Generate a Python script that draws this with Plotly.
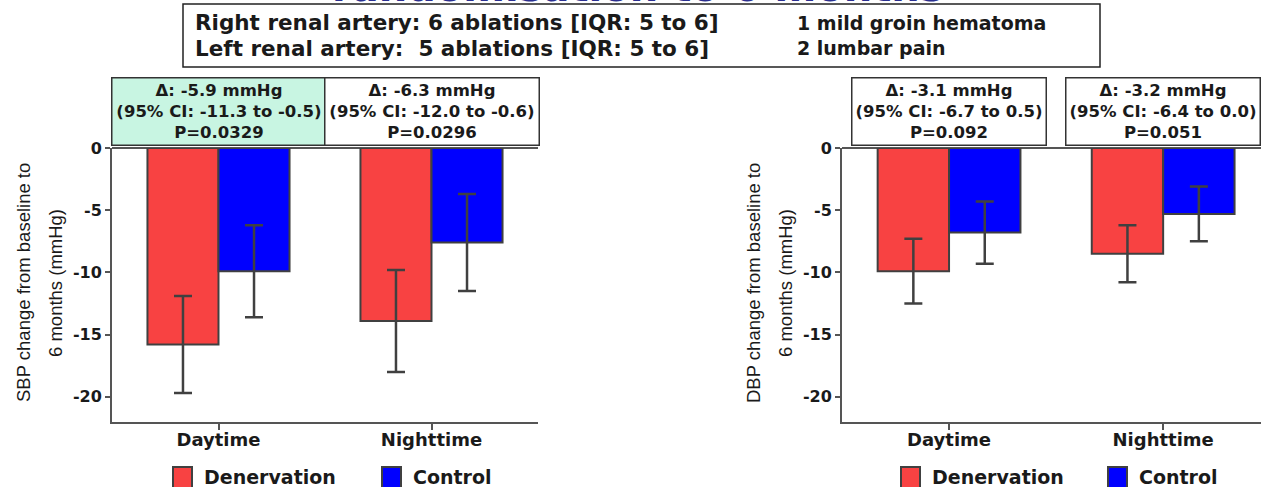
import plotly.graph_objects as go

W, H = 1261, 487

# ---- data -------------------------------------------------------------
periods = ["Daytime", "Nighttime"]
groups = ["Denervation", "Control"]

sbp_denervation = [-15.8, -13.9]
sbp_denervation_err = [3.9, 4.1]
sbp_control = [-9.9, -7.6]
sbp_control_err = [3.7, 3.9]

dbp_denervation = [-9.9, -8.5]
dbp_denervation_err = [2.6, 2.3]
dbp_control = [-6.8, -5.3]
dbp_control_err = [2.5, 2.2]

sbp_boxes = [
    "Δ: -5.9 mmHg<br>(95% CI: -11.3 to -0.5)<br>P=0.0329",
    "Δ: -6.3 mmHg<br>(95% CI: -12.0 to -0.6)<br>P=0.0296",
]
dbp_boxes = [
    "Δ: -3.1 mmHg<br>(95% CI: -6.7 to 0.5)<br>P=0.092",
    "Δ: -3.2 mmHg<br>(95% CI: -6.4 to 0.0)<br>P=0.051",
]

y_ticks = [0, -5, -10, -15, -20]

RED = "#F84242"
BLUE = "#0000FF"
EDGE = "#404040"
AXIS = "#555555"
TEXT = "#1a1a1a"
BOLD_FONT = "DejaVu Sans"
NARROW_FONT = "Liberation Sans Narrow, Liberation Sans, Arial"


def px(x):
    return x / W


def py(y):
    return 1 - y / H


def bold(size, color=TEXT):
    return dict(family=BOLD_FONT, size=size, color=color, weight="bold")


fig = go.Figure()


def add_bars(den, den_err, ctl, ctl_err, xa, ya):
    fig.add_trace(go.Bar(
        x=periods, y=den, name=groups[0], xaxis=xa, yaxis=ya,
        marker=dict(color=RED, line=dict(color=EDGE, width=2)),
        error_y=dict(type="data", array=den_err, color=EDGE, thickness=2.5, width=9),
        showlegend=False,
    ))
    fig.add_trace(go.Bar(
        x=periods, y=ctl, name=groups[1], xaxis=xa, yaxis=ya,
        marker=dict(color=BLUE, line=dict(color=EDGE, width=2)),
        error_y=dict(type="data", array=ctl_err, color=EDGE, thickness=2.5, width=9),
        showlegend=False,
    ))


add_bars(sbp_denervation, sbp_denervation_err, sbp_control, sbp_control_err, "x", "y")
add_bars(dbp_denervation, dbp_denervation_err, dbp_control, dbp_control_err, "x2", "y2")

y_dom = [py(421.7), py(148)]

xaxis_common = dict(
    type="category", showline=True, linecolor=AXIS, linewidth=2,
    ticks="outside", ticklen=6, tickcolor=AXIS, tickwidth=1.5,
    tickfont=bold(18), automargin=False, ticklabelstandoff=-5,
    showgrid=False, zeroline=False,
)
yaxis_common = dict(
    range=[-22, 0], tickvals=y_ticks, ticktext=[str(v) for v in y_ticks],
    showline=True, linecolor=AXIS, linewidth=2,
    ticks="outside", ticklen=5, tickcolor=AXIS, tickwidth=1.5,
    tickfont=bold(16), automargin=False,
    showgrid=False, zeroline=True, zerolinecolor=AXIS, zerolinewidth=1.5,
    domain=y_dom,
)

fig.update_layout(
    width=W, height=H,
    margin=dict(l=0, r=0, t=0, b=0, pad=0, autoexpand=False),
    paper_bgcolor="white", plot_bgcolor="white",
    barmode="group", bargap=0.333, bargroupgap=0,
    xaxis=dict(xaxis_common, domain=[px(112), px(538)], range=[-0.5, 1.5], anchor="y"),
    yaxis=dict(yaxis_common, anchor="x"),
    xaxis2=dict(xaxis_common, domain=[px(842), 1.0], range=[-0.5, 1.457], anchor="y2"),
    yaxis2=dict(yaxis_common, anchor="x2"),
    showlegend=False,
)

annotations = []
shapes = []

# statistics boxes above each pair of bars
box_specs = [
    ("x", sbp_boxes, 210, ["#C8F5E2", "white"]),
    ("x2", dbp_boxes, 190, ["white", "white"]),
]
for xref, texts, width, fills in box_specs:
    for i, txt in enumerate(texts):
        annotations.append(dict(
            xref=xref, yref="paper", x=i, y=py(111), xanchor="center", yanchor="middle",
            text=txt, showarrow=False, align="center",
            width=width, height=63,
            font=bold(16.5),
            bgcolor=fills[i], bordercolor="#333333", borderwidth=1.5, borderpad=1.5,
        ))

# y-axis titles, two lines each
for x_line1, x_line2, label in [(23, 55, "SBP"), (753, 785, "DBP")]:
    for xc, txt in [(x_line1, f"{label} change from baseline to"), (x_line2, "6 months (mmHg)")]:
        annotations.append(dict(
            xref="paper", yref="paper", x=px(xc), y=py(283), textangle=-90,
            text=txt, showarrow=False,
            font=dict(family=NARROW_FONT, size=18.5, color=TEXT),
            xanchor="center", yanchor="middle",
        ))

# legends under each panel
for sq1, sq2 in [(173, 382), (901, 1108)]:
    for sx, color, label in [(sq1, RED, groups[0]), (sq2, BLUE, groups[1])]:
        shapes.append(dict(
            type="rect", xref="paper", yref="paper",
            x0=px(sx), x1=px(sx + 19), y0=py(489), y1=py(467),
            fillcolor=color, line=dict(color=EDGE, width=2),
        ))
        annotations.append(dict(
            xref="paper", yref="paper", x=px(sx + 29), y=py(477),
            xanchor="left", yanchor="middle", text=label, showarrow=False,
            font=bold(19),
        ))

# procedure summary box
shapes.append(dict(
    type="rect", xref="paper", yref="paper",
    x0=px(183), x1=px(1100), y0=py(67), y1=py(4),
    fillcolor="white", line=dict(color="#222222", width=1.5), layer="below",
))
summary_left = [
    "Right renal artery: 6 ablations [IQR: 5 to 6]",
    "Left renal artery:  5 ablations [IQR: 5 to 6]",
]
summary_right = ["1 mild groin hematoma", "2 lumbar pain"]
for i, (lt, rt) in enumerate(zip(summary_left, summary_right)):
    yc = py(23 + 25 * i)
    annotations.append(dict(
        xref="paper", yref="paper", x=px(193), y=yc, xanchor="left", yanchor="middle",
        text=lt.replace("  ", "&nbsp; "), showarrow=False,
        font=bold(21.5),
    ))
    annotations.append(dict(
        xref="paper", yref="paper", x=px(795), y=yc, xanchor="left", yanchor="middle",
        text=rt, showarrow=False,
        font=bold(19),
    ))

# slide heading, mostly above the visible area
annotations.append(dict(
    xref="paper", yref="paper", x=px(638), y=py(12.5), xanchor="center", yanchor="bottom",
    text="randomisation to 6 months", showarrow=False,
    font=bold(40, "#2B2F8F"),
))

fig.update_layout(annotations=annotations, shapes=shapes)
fig.write_html("out.html")
